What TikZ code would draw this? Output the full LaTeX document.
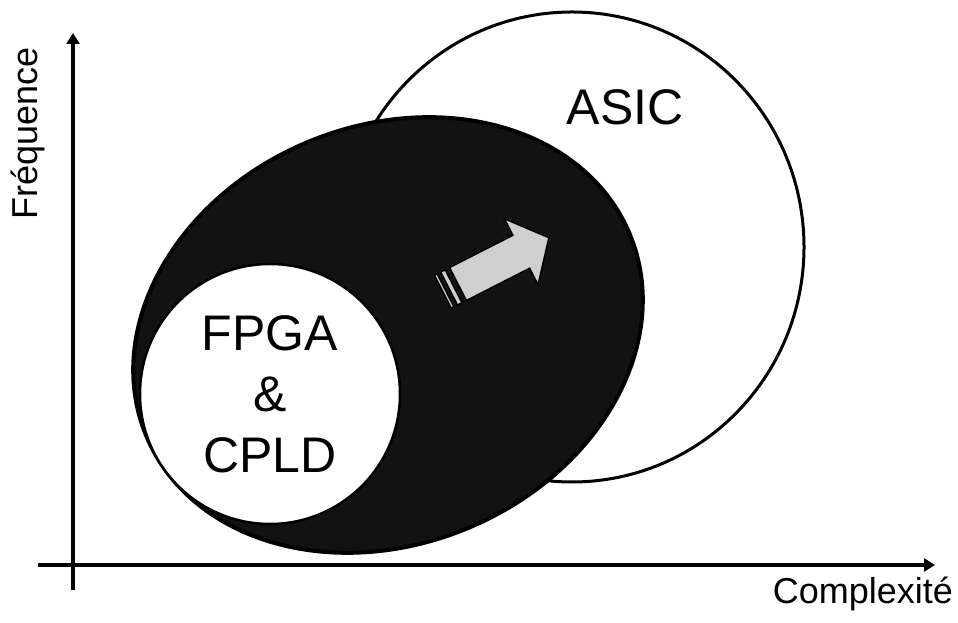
\documentclass[tikz,border=0pt]{standalone}
\usepackage{fontspec}
\setmainfont{Liberation Sans}
\usetikzlibrary{shapes.geometric,arrows.meta}
\begin{document}
\begin{tikzpicture}[x=1pt,y=1pt,
  blob/.style={ellipse, inner sep=0pt, outer sep=0pt},
  axis/.style={line width=4pt, -{Triangle[length=11pt,width=13pt]}},
  axislabel/.style={font=\fontsize{36}{40}\selectfont, inner sep=0pt},
  bigtext/.style={font=\fontsize{50}{61}\selectfont, align=center},
  arrowpart/.style={fill=black!19, draw=black, line width=1.5pt, line join=miter}]
\useasboundingbox (0,0) rectangle (958,623);

% large outer circle
\node[blob, draw, line width=3pt, fill=white,
      minimum width=464pt, minimum height=470pt] (asic) at (572,376) {};
% tilted dark ellipse
\node[blob, draw, line width=4pt, fill=black!93, rotate=22.8,
      minimum width=524pt, minimum height=418pt] (dark) at (388,288) {};
% inner white circle with its label
\node[blob, draw, line width=2.5pt, fill=white, bigtext,
      minimum width=260pt, minimum height=260pt] (fpga) at (270,229)
      {FPGA\\\&\\CPLD};

\node[font=\fontsize{50}{60}\selectfont, anchor=base, inner sep=0pt] (asiclabel) at (625,498) {ASIC};

% block arrow with two stripes behind its tail
\begin{scope}[shift={(458,339)}, rotate=27]
  \path[arrowpart] (0,-18.5) -- (71,-18.5) -- (71,-37) -- (102,0)
        -- (71,37) -- (71,18.5) -- (0,18.5) -- cycle;
  \path[arrowpart] (-10,-18.5) rectangle (-5,18.5);
  \path[arrowpart] (-17,-18.5) rectangle (-14,18.5);
\end{scope}

% axes
\coordinate (ybottom) at (73,33);
\coordinate (ytop) at (73,590);
\coordinate (xleft) at (38,58);
\coordinate (xright) at (935,58);
\draw[axis] (ybottom) -- (ytop);
\draw[axis] (xleft) -- (xright);

\node[axislabel, rotate=90, anchor=base] (ylabel) at (37,489.5) {Fréquence};
\node[axislabel, anchor=base] (xlabel) at (863,19) {Complexité};
\end{tikzpicture}
\end{document}
